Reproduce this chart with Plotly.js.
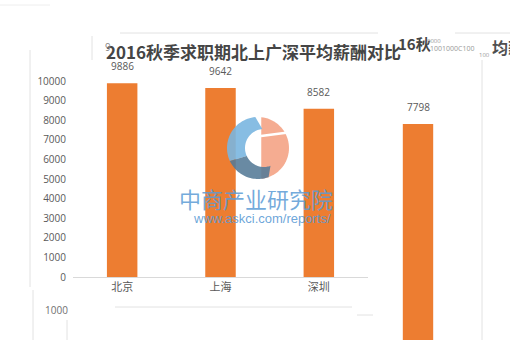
<!DOCTYPE html>
<html>
<head>
<meta charset="utf-8">
<script src="https://cdn.plot.ly/plotly-3.0.1.min.js"></script>
<style>
  html, body { margin: 0; padding: 0; background: #ffffff; }
  #chart { width: 510px; height: 340px; }
</style>
</head>
<body>
<div id="chart"></div>
<script>
// Average salary, autumn 2016 job season (yuan / month)
const cities = ['北京', '上海', '深圳'];
const salaries = [9886, 9642, 8582];
const lastCity = ['广州'];
const lastSalary = [7798];
const yTicks = [0, 1000, 2000, 3000, 4000, 5000, 6000, 7000, 8000, 9000, 10000];

const W = 510, H = 340;
const px = x => x / W;
const py = y => 1 - y / H;

const BAR = '#ED7D31';
const LABEL = '#595959';
const CJK = '"Noto Sans CJK SC", "Noto Sans", sans-serif';
const LATIN = '"Open Sans", "Liberation Sans", sans-serif';

const traces = [
  {
    type: 'bar', x: cities, y: salaries, width: 0.31,
    marker: { color: BAR }, hoverinfo: 'skip', xaxis: 'x', yaxis: 'y'
  },
  {
    type: 'bar', x: lastCity, y: lastSalary, width: 0.31,
    marker: { color: BAR }, hoverinfo: 'skip', xaxis: 'x2', yaxis: 'y2'
  }
];

// value labels above each bar
const annotations = [];
cities.forEach((c, i) => annotations.push({
  x: c, y: salaries[i], xref: 'x', yref: 'y', text: String(salaries[i]),
  showarrow: false, yanchor: 'bottom', yshift: 8,
  font: { family: LATIN, size: 10, color: LABEL }
}));
lastCity.forEach((c, i) => annotations.push({
  x: c, y: lastSalary[i], xref: 'x2', yref: 'y2', text: String(lastSalary[i]),
  showarrow: false, yanchor: 'bottom', yshift: 8,
  font: { family: LATIN, size: 10, color: LABEL }
}));

function txt(text, x, y, size, color, family, anchor, extra) {
  return Object.assign({
    text, x: px(x), y: py(y), xref: 'paper', yref: 'paper',
    xanchor: anchor || 'left', yanchor: 'middle', showarrow: false,
    font: { family: family || CJK, size, color }
  }, extra || {});
}

// title and the stray fragments along the top edge
annotations.push(txt('<b>2016秋季求职期北上广深平均薪酬对比</b>', 104, 51, 17, '#454545'));
annotations.push(txt('9', 103, 47, 10, '#888888', LATIN));
annotations.push(txt('<b>16秋</b>', 396, 43, 15, '#454545'));
annotations.push(txt('0000', 425, 41, 6, '#999999', LATIN));
annotations.push(txt('1001000C100', 428, 49, 7, '#999999', LATIN));
annotations.push(txt('100', 477, 55, 6, '#999999', LATIN));
annotations.push(txt('<b>均薪</b>', 490, 47, 16, '#505050'));
annotations.push(txt('1000', 70, 310, 10, '#707070', LATIN, 'right'));

// watermark
annotations.push(txt('中商产业研究院', 256, 198, 22, 'rgba(91,155,213,0.85)', CJK, 'center'));
annotations.push(txt('www.askci.com/reports/', 262, 218, 13, 'rgba(91,155,213,0.9)', '"Liberation Sans", Arial, sans-serif', 'center'));

// helpers for decoration shapes in pixel space
function pathFrom(points) {
  return 'M' + points.map(p => px(p[0]).toFixed(5) + ',' + py(p[1]).toFixed(5)).join('L') + 'Z';
}
function arcPts(cx, cy, r, a0, a1, n) {
  const pts = [];
  for (let i = 0; i <= n; i++) {
    const a = (a0 + (a1 - a0) * i / n) * Math.PI / 180;
    pts.push([cx + r * Math.cos(a), cy - r * Math.sin(a)]);
  }
  return pts;
}
const LX = 258, LY = 148, LR = 31;
function ringPart(a0, a1) {
  const outer = arcPts(LX, LY, LR, a0, a1, 30);
  const inner = arcPts(LX + 6, LY, 19, a1, a0, 30);
  return pathFrom(outer.concat(inner));
}

const shapes = [];
function line(x0, y0, x1, y1, color) {
  shapes.push({
    type: 'line', xref: 'paper', yref: 'paper',
    x0: px(x0), y0: py(y0), x1: px(x1), y1: py(y1),
    line: { color: color || '#e2e2e2', width: 1 }, layer: 'below'
  });
}
// panel edges
line(120, 33, 378, 33);
line(455, 33, 510, 33);
line(0, 5, 50, 5, '#eeeeee');
line(92, 36, 92, 60);
line(30, 50, 30, 287);
line(33, 290, 33, 340);
line(67, 320, 67, 340);
line(115, 307, 352, 307);
line(357, 315, 373, 315);
line(482, 60, 482, 340);

// logo
shapes.push({ type: 'path', xref: 'paper', yref: 'paper', layer: 'above',
  path: pathFrom(arcPts(LX, LY, LR, 84, -84, 40)), fillcolor: 'rgba(244,160,130,0.88)', line: { width: 0 } });
shapes.push({ type: 'line', xref: 'paper', yref: 'paper', layer: 'above',
  x0: px(261), y0: py(136), x1: px(292), y1: py(132), line: { color: '#ffffff', width: 2.5 } });
shapes.push({ type: 'path', xref: 'paper', yref: 'paper', layer: 'above',
  path: ringPart(95, 205), fillcolor: 'rgba(122,182,224,0.9)', line: { width: 0 } });
shapes.push({ type: 'path', xref: 'paper', yref: 'paper', layer: 'above',
  path: ringPart(205, 290), fillcolor: 'rgba(84,122,150,0.88)', line: { width: 0 } });

const layout = {
  width: W, height: H,
  margin: { l: 0, r: 0, t: 0, b: 0, pad: 0 },
  paper_bgcolor: '#ffffff', plot_bgcolor: 'rgba(0,0,0,0)',
  showlegend: false,
  xaxis: {
    domain: [px(73), px(368)], anchor: 'y',
    type: 'category', range: [-0.5, 2.5],
    showline: true, linecolor: '#d9d9d9', linewidth: 1,
    ticks: '', showgrid: false, zeroline: false, fixedrange: true,
    tickfont: { family: CJK, size: 11, color: LABEL }
  },
  yaxis: {
    domain: [py(277), py(81)], anchor: 'x',
    range: [0, 10000], tickvals: yTicks, ticktext: yTicks.map(String),
    showline: false, showgrid: false, zeroline: false, ticks: '',
    ticklabelstandoff: 6, fixedrange: true,
    tickfont: { family: LATIN, size: 10, color: LABEL }
  },
  xaxis2: {
    domain: [px(369), px(467)], anchor: 'y2',
    type: 'category', range: [-0.5, 0.5], visible: false, fixedrange: true
  },
  yaxis2: {
    domain: [0, py(124)], anchor: 'x2',
    range: [0, lastSalary[0]], visible: false, fixedrange: true
  },
  annotations, shapes
};

Plotly.newPlot('chart', traces, layout, { displayModeBar: false, staticPlot: true });
</script>
</body>
</html>
